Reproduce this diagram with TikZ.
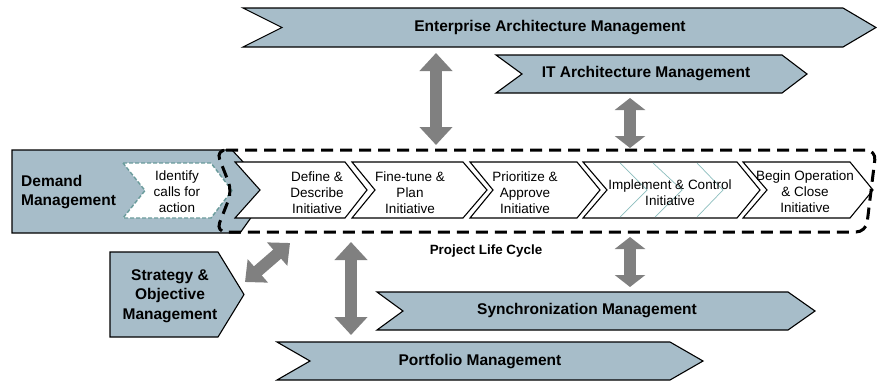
\documentclass[tikz,border=0pt]{standalone}
\usepackage{fontspec}
\setmainfont{Liberation Sans}
\usetikzlibrary{arrows.meta}

\definecolor{mgmtblue}{RGB}{167,189,201}
\definecolor{arrowgray}{RGB}{128,128,128}
\definecolor{tealdash}{RGB}{105,155,155}
\definecolor{tealline}{RGB}{140,190,190}

% banner / chevron: style, x-left, x-notch, x-right, x-tip, y-top, y-mid, y-bottom
\newcommand{\bannershape}[8]{%
  \draw[#1] (#2,#6) -- (#4,#6) -- (#5,#7) -- (#4,#8) -- (#2,#8) -- (#3,#7) -- cycle;}

\tikzset{
  mgmt/.style={fill=mgmtblue, draw=black, line width=1.1pt, line join=miter},
  stage/.style={fill=white, draw=black, line width=1.1pt, line join=miter},
  identify/.style={fill=white, draw=tealdash, line width=1.4pt, dash pattern=on 4pt off 2pt},
  inner/.style={draw=tealline, line width=0.7pt},
  plc/.style={draw=black, line width=3pt, dash pattern=on 12pt off 7pt, rounded corners=10pt},
  biglabel/.style={font=\fontsize{15.5}{19.5}\selectfont\bfseries, inner sep=0pt, align=center},
  stagetext/.style={font=\fontsize{13.5}{16}\selectfont, inner sep=0pt, align=center},
  fatarrow/.style={line width=12pt, draw=arrowgray,
    arrows={Triangle[length=#1,width=32pt]-Triangle[length=#1,width=32pt]}},
  slimhead/.style={line width=12pt, draw=arrowgray,
    arrows={Triangle[length=#1,width=30pt]-Triangle[length=#1,width=30pt]}}
}

\begin{document}
\begin{tikzpicture}[x=1pt,y=-1pt]
\useasboundingbox (0,0) rectangle (877,383);

% management banners
\bannershape{mgmt}{243}{282}{843}{876}{8}{27.5}{47}
\bannershape{mgmt}{496}{522}{782}{807}{55}{74}{93}
\bannershape{mgmt}{377}{403}{788}{815}{292}{311}{330}
\bannershape{mgmt}{277}{310}{670}{703}{342}{361}{380}
\draw[mgmt] (110,252) -- (218,252) -- (244,294.5) -- (218,337) -- (110,337) -- cycle;
\draw[mgmt] (12,150) -- (232,150) -- (270,191) -- (240,233) -- (12,233) -- cycle;

% identify step inside demand management
\bannershape{identify}{123}{145}{211}{232}{163}{190.5}{218}

% project life cycle stages
\bannershape{stage}{235}{260}{345}{367}{162}{190}{218}
\bannershape{stage}{352}{375}{463}{487}{162}{190}{218}
\bannershape{stage}{470}{493}{577}{600}{162}{190}{218}
\bannershape{stage}{583}{607}{737}{760}{162}{190}{218}
\bannershape{stage}{743}{767}{850}{873}{162}{190}{218}

% sub-steps of implement & control
\draw[inner] (620,163) -- (647,190) -- (620,217);
\draw[inner] (653,163) -- (682,190) -- (655,217);
\draw[inner] (697,163) -- (723,190) -- (697,217);

% project life cycle boundary
\draw[plc] (216,150) -- (876,150) -- (866,232) -- (216,232) -- (232,191) -- cycle;

% texts
\node[biglabel] (eam) at (550,27.5) {Enterprise Architecture Management};
\node[biglabel] (itam) at (646,74) {IT Architecture Management};
\node[biglabel] (sync) at (587,311) {Synchronization Management};
\node[biglabel] (pfm) at (480,361.5) {Portfolio Management};
\node[biglabel] (som) at (170,296) {Strategy \&\\Objective\\Management};
\node[biglabel, anchor=west, align=left] (dem) at (21,192) {Demand\\Management};
\node[font=\fontsize{13.4}{16}\selectfont\bfseries, inner sep=0pt] (plcl) at (486,251) {Project Life Cycle};

\node[stagetext] (s0) at (177,192) {Identify\\calls for\\action};
\node[stagetext] (s1) at (317,193) {Define \&\\Describe\\Initiative};
\node[stagetext] (s2) at (410,193) {Fine-tune \&\\Plan\\Initiative};
\node[stagetext] (s3) at (525,193) {Prioritize \&\\Approve\\Initiative};
\node[stagetext] (s4) at (670,193) {Implement \& Control\\Initiative};
\node[stagetext] (s5) at (805,192) {Begin Operation\\\& Close\\Initiative};

% connector end points
\coordinate (eamS) at (436,53);
\coordinate (plcN1) at (436,145);
\coordinate (itamS) at (630,98);
\coordinate (plcN2) at (630,148);
\coordinate (plcS2) at (630,237);
\coordinate (syncN) at (630,287);
\coordinate (plcS1) at (351,242);
\coordinate (pfmN) at (351,335);
\coordinate (somE) at (245,282);
\coordinate (plcSW) at (290,243);

% relations
\draw[fatarrow=18pt] (eamS) -- (plcN1);
\draw[slimhead=12pt] (itamS) -- (plcN2);
\draw[slimhead=12pt] (plcS2) -- (syncN);
\draw[fatarrow=18pt] (plcS1) -- (pfmN);
\draw[slimhead=17pt] (somE) -- (plcSW);
\end{tikzpicture}
\end{document}
